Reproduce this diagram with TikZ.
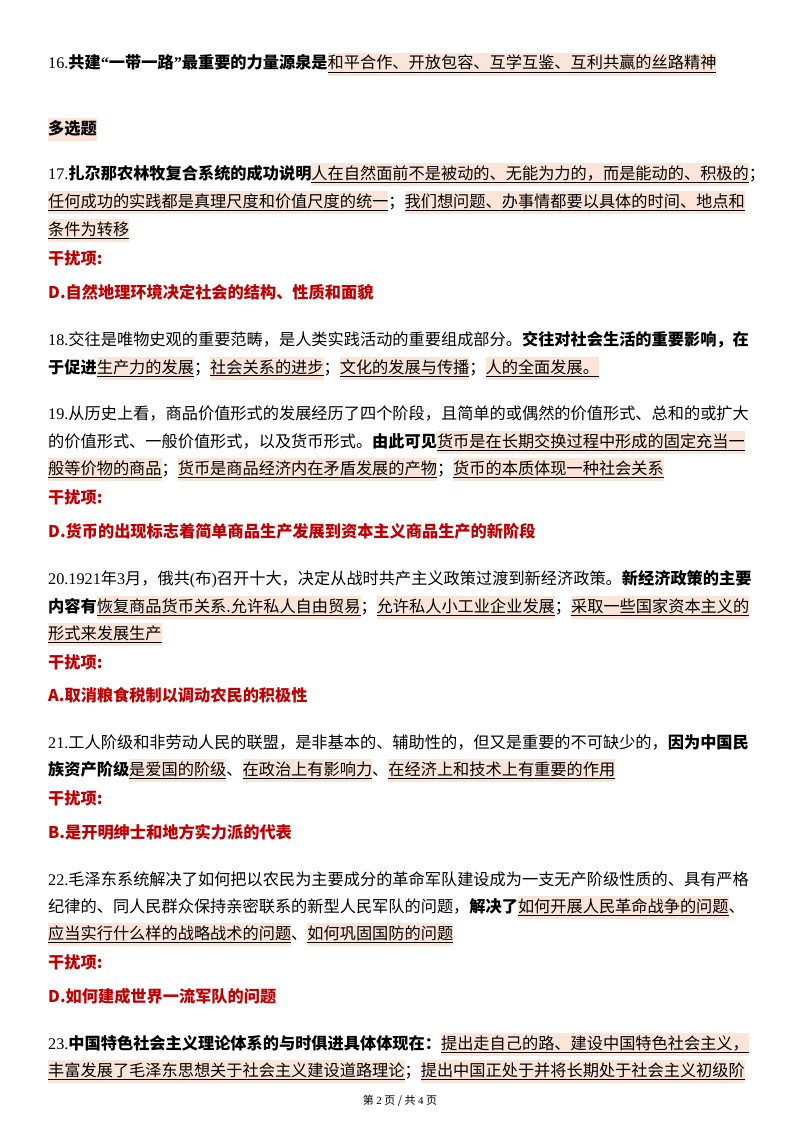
\documentclass[tikz,border=0pt]{standalone}
\usepackage{fontspec}
\setmainfont{Noto Sans CJK SC}
\newfontfamily\lat{Liberation Serif}
\definecolor{hlc}{HTML}{FBE4D8}
\definecolor{redt}{HTML}{C00000}
\newcommand\hl[1]{{\setlength\fboxsep{0pt}\colorbox{hlc}{\rule[-7pt]{0pt}{23pt}\underline{#1}}}}
\newcommand\nm[1]{{\lat #1}}
\tikzset{ln/.style={anchor=base west,inner sep=0pt,font=\fontsize{16.2}{20}\selectfont},
 red/.style={ln,text=redt,font=\fontsize{16.2}{20}\selectfont\bfseries}}
\begin{document}
\begin{tikzpicture}[x=1pt,y=-1pt]
\useasboundingbox[fill=white] (0,0) rectangle (800,1132);
\node[ln] (l1) at (48,69) {\nm{16.}\textbf{共建\nm{“}一带一路\nm{”}最重要的力量源泉是}\hl{和平合作、开放包容、互学互鉴、互利共赢的丝路精神}};
\node[ln] (l2) at (48,134) {{\setlength\fboxsep{0pt}\colorbox{hlc}{\rule[-7pt]{0pt}{23pt}\textbf{多选题}}}};
\node[ln] (l3) at (48,179) {\nm{17.}\textbf{扎尕那农林牧复合系统的成功说明}\hl{人在自然面前不是被动的、无能为力的，而是能动的、积极的}；};
\node[ln] (l4) at (48,207) {\hl{任何成功的实践都是真理尺度和价值尺度的统一}；\hl{我们想问题、办事情都要以具体的时间、地点和}};
\node[ln] (l5) at (48,235) {\hl{条件为转移}};
\node[red] (l6) at (48,264) {干扰项:};
\node[red] (l7) at (48,298) {D.自然地理环境决定社会的结构、性质和面貌};
\node[ln] (l8) at (48,345) {\nm{18.}交往是唯物史观的重要范畴，是人类实践活动的重要组成部分。\textbf{交往对社会生活的重要影响，在}};
\node[ln] (l9) at (48,373) {\textbf{于促进}\hl{生产力的发展}；\hl{社会关系的进步}；\hl{文化的发展与传播}；\hl{人的全面发展。}};
\node[ln] (l10) at (48,419) {\nm{19.}从历史上看，商品价值形式的发展经历了四个阶段，且简单的或偶然的价值形式、总和的或扩大};
\node[ln] (l11) at (48,447) {的价值形式、一般价值形式，以及货币形式。\textbf{由此可见}\hl{货币是在长期交换过程中形成的固定充当一}};
\node[ln] (l12) at (48,474) {\hl{般等价物的商品}；\hl{货币是商品经济内在矛盾发展的产物}；\hl{货币的本质体现一种社会关系}};
\node[red] (l13) at (48,503) {干扰项:};
\node[red] (l14) at (48,537) {D.货币的出现标志着简单商品生产发展到资本主义商品生产的新阶段};
\node[ln] (l15) at (48,584) {\nm{20.1921}年\nm{3}月，俄共\nm{(}布\nm{)}召开十大，决定从战时共产主义政策过渡到新经济政策。\textbf{新经济政策的主要}};
\node[ln] (l16) at (48,612) {\textbf{内容有}\hl{恢复商品货币关系.允许私人自由贸易}；\hl{允许私人小工业企业发展}；\hl{采取一些国家资本主义的}};
\node[ln] (l17) at (48,639) {\hl{形式来发展生产}};
\node[red] (l18) at (48,668) {干扰项:};
\node[red] (l19) at (48,701) {A.取消粮食税制以调动农民的积极性};
\node[ln] (l20) at (48,748) {\nm{21.}工人阶级和非劳动人民的联盟，是非基本的、辅助性的，但又是重要的不可缺少的，\textbf{因为中国民}};
\node[ln] (l21) at (48,775) {\textbf{族资产阶级}\hl{是爱国的阶级}、\hl{在政治上有影响力}、\hl{在经济上和技术上有重要的作用}};
\node[red] (l22) at (48,804) {干扰项:};
\node[red] (l23) at (48,838) {B.是开明绅士和地方实力派的代表};
\node[ln] (l24) at (48,885) {\nm{22.}毛泽东系统解决了如何把以农民为主要成分的革命军队建设成为一支无产阶级性质的、具有严格};
\node[ln] (l25) at (48,912) {纪律的、同人民群众保持亲密联系的新型人民军队的问题，\textbf{解决了}\hl{如何开展人民革命战争的问题}、};
\node[ln] (l26) at (48,939) {\hl{应当实行什么样的战略战术的问题}、\hl{如何巩固国防的问题}};
\node[red] (l27) at (48,968) {干扰项:};
\node[red] (l28) at (48,1002) {D.如何建成世界一流军队的问题};
\node[ln] (l29) at (48,1049) {\nm{23.}\textbf{中国特色社会主义理论体系的与时俱进具体体现在：}\hl{提出走自己的路、建设中国特色社会主义，}};
\node[ln] (l30) at (48,1076) {\hl{丰富发展了毛泽东思想关于社会主义建设道路理论}；\hl{提出中国正处于并将长期处于社会主义初级阶}};
\node[anchor=base,inner sep=0pt,font=\fontsize{11}{13}\selectfont] (ft) at (400,1104) {第 \nm{2} 页 / 共 \nm{4} 页};
\end{tikzpicture}
\end{document}
